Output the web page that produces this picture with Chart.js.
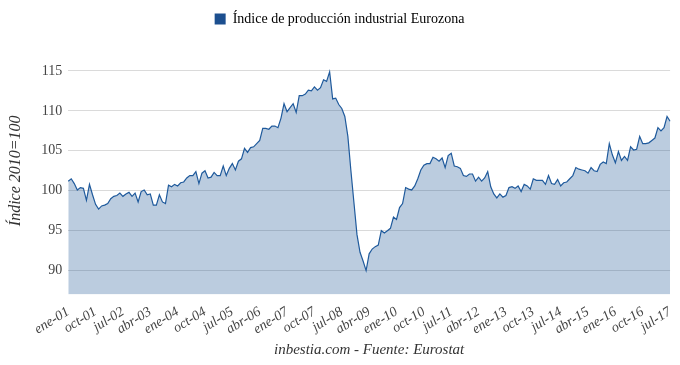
<!doctype html>
<meta charset="utf-8">
<title>Índice de producción industrial Eurozona</title>
<style>
    html, body { margin: 0; padding: 0; background: #fff; }
    #wrap { width: 680px; height: 365px; }
</style>
<body>
<div id="wrap"><canvas id="chart"></canvas></div>
<script src="https://cdn.jsdelivr.net/npm/chart.js@4/dist/chart.umd.min.js"></script>
<script>
    // meses y arranque de la serie (ene-01 .. jul-17)
    const meses = ["ene", "feb", "mar", "abr", "may", "jun", "jul", "ago", "sep", "oct", "nov", "dic"];
    const anioInicio = 2001;

    // índice 2010=100, mensual
    const ipi2001_2004 = [
        101.2, 101.5, 100.9, 100.1, 100.4, 100.3, 98.8, 100.8, 99.5, 98.3, 97.7, 98.1,
        98.2, 98.4, 99.0, 99.3, 99.4, 99.7, 99.3, 99.6, 99.8, 99.3, 99.7, 98.6,
        99.9, 100.1, 99.5, 99.6, 98.2, 98.2, 99.5, 98.6, 98.4, 100.7, 100.5, 100.8,
        100.6, 101.0, 101.1, 101.6, 101.9, 101.9, 102.4, 100.9, 102.2, 102.5, 101.6, 101.7
    ];
    const ipi2005_2008 = [
        102.3, 101.9, 101.9, 103.1, 101.9, 102.8, 103.4, 102.6, 103.7, 104.0, 105.3, 104.8,
        105.4, 105.5, 105.9, 106.3, 107.8, 107.8, 107.7, 108.1, 108.1, 107.9, 109.1, 110.9,
        109.9, 110.4, 110.9, 109.8, 111.9, 111.9, 112.1, 112.6, 112.5, 113.0, 112.6, 112.9,
        113.9, 113.7, 114.9, 111.5, 111.6, 110.8, 110.3, 109.3, 106.8, 102.5, 98.5, 94.5
    ];
    const ipi2009_2012 = [
        92.3, 91.2, 90.0, 92.1, 92.7, 93.0, 93.2, 95.0, 94.7, 95.0, 95.3, 96.7,
        96.4, 97.9, 98.4, 100.4, 100.2, 100.1, 100.6, 101.5, 102.6, 103.2, 103.4, 103.4,
        104.2, 104.0, 103.7, 104.1, 102.9, 104.4, 104.7, 103.1, 103.0, 102.8, 101.9, 101.8,
        102.1, 102.1, 101.2, 101.7, 101.2, 101.6, 102.4, 100.5, 99.6, 99.1, 99.6, 99.2
    ];
    const ipi2013_2017 = [
        99.4, 100.4, 100.5, 100.3, 100.6, 99.9, 100.8, 100.6, 100.2, 101.5, 101.3, 101.3,
        101.3, 100.8, 101.9, 100.9, 100.8, 101.4, 100.6, 101.0, 101.1, 101.5, 101.9, 102.9,
        102.7, 102.6, 102.5, 102.2, 102.9, 102.5, 102.4, 103.3, 103.6, 103.4, 105.9, 104.5,
        103.5, 104.9, 103.8, 104.3, 103.8, 105.5, 105.1, 105.2, 106.8, 105.9, 105.9, 106.0,
        106.3, 106.6, 107.9, 107.5, 107.9, 109.3, 108.7
    ];

    const valores = [...ipi2001_2004, ...ipi2005_2008, ...ipi2009_2012, ...ipi2013_2017];
    const etiquetas = valores.map((v, i) =>
        meses[i % 12] + "-" + String((anioInicio + Math.floor(i / 12)) % 100).padStart(2, "0"));

    const fuente = "'Liberation Serif', 'Times New Roman', serif";

    // deja más aire entre la leyenda y el gráfico
    const huecoLeyenda = {
        id: "huecoLeyenda",
        afterInit(chart) {
            const fit = chart.legend.fit;
            chart.legend.fit = function () {
                fit.call(this);
                this.height += 11;
            };
        },
    };

    new Chart(document.getElementById("chart"), {
        type: "line",
        data: {
            labels: etiquetas,
            datasets: [{
                label: "Índice de producción industrial Eurozona",
                data: valores,
                borderColor: "#1f5a9c",
                backgroundColor: "rgba(30,85,150,0.3)",
                borderWidth: 1.2,
                pointRadius: 0,
                tension: 0,
                fill: "start",
            }],
        },
        options: {
            responsive: true,
            maintainAspectRatio: false,
            animation: false,
            layout: { padding: { top: 2, right: 3, left: 2, bottom: 2 } },
            plugins: {
                legend: {
                    labels: {
                        font: { family: fuente, size: 14 },
                        color: "#333",
                        boxWidth: 11,
                        boxHeight: 11,
                        generateLabels: (chart) => [{
                            text: chart.data.datasets[0].label,
                            fillStyle: "#1c4f8f",
                            strokeStyle: "#1c4f8f",
                            lineWidth: 0,
                            datasetIndex: 0,
                        }],
                    },
                },
                tooltip: { enabled: false },
            },
            scales: {
                x: {
                    grid: { display: false },
                    border: { display: false },
                    ticks: {
                        autoSkip: false,
                        minRotation: 32,
                        maxRotation: 32,
                        padding: 1,
                        color: "#444",
                        font: { family: fuente, size: 14, style: "italic" },
                        callback: function (v, i) {
                            return i % 9 === 0 ? this.getLabelForValue(v) : null;
                        },
                    },
                    title: {
                        display: true,
                        text: "inbestia.com - Fuente: Eurostat",
                        color: "#333",
                        font: { family: fuente, size: 15, style: "italic" },
                        padding: { top: 2 },
                    },
                },
                y: {
                    min: 87,
                    max: 118,
                    afterBuildTicks: (axis) => {
                        axis.ticks = axis.ticks.filter(t => t.value % 5 === 0);
                    },
                    grid: { color: "#dadada", drawTicks: false },
                    border: { display: false },
                    ticks: {
                        stepSize: 5,
                        padding: 6,
                        color: "#444",
                        font: { family: fuente, size: 14 },
                    },
                    title: {
                        display: true,
                        text: "Índice 2010=100",
                        color: "#333",
                        font: { family: fuente, size: 16, style: "italic" },
                        padding: { bottom: 10 },
                    },
                },
            },
        },
        plugins: [huecoLeyenda],
    });
</script>
</body>
